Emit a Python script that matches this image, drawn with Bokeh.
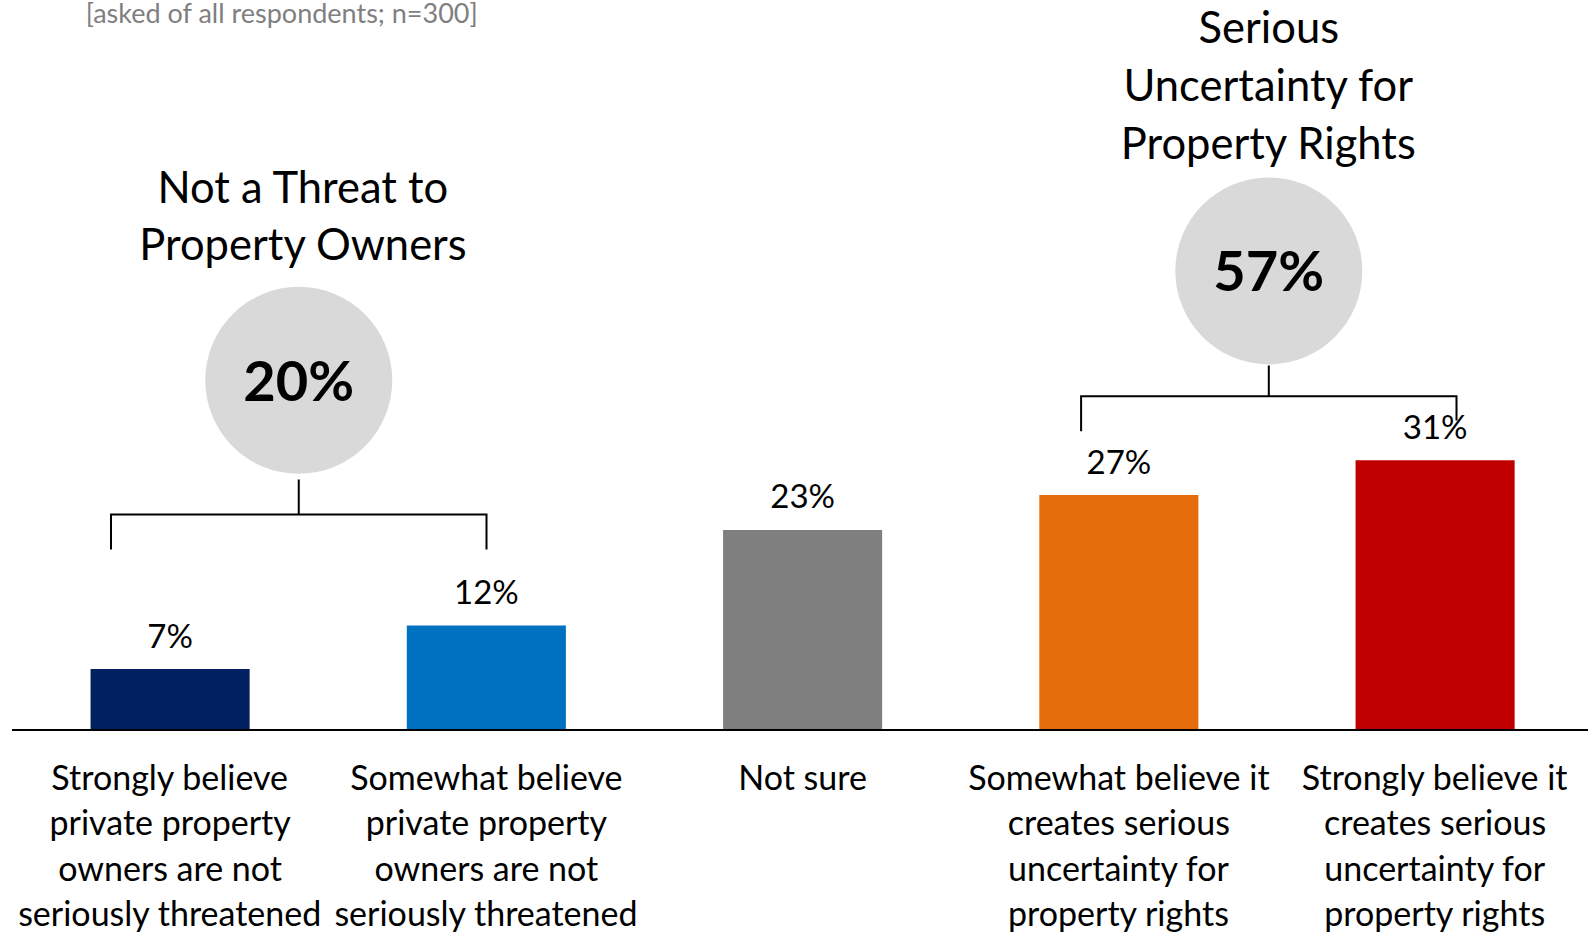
from bokeh.plotting import figure
from bokeh.models import Range1d, ColumnDataSource
from bokeh.core.properties import value
from bokeh.embed import file_html
from bokeh.resources import INLINE

# ---------------- data ----------------
categories = [
    ["Strongly believe", "private property", "owners are not", "seriously threatened"],
    ["Somewhat believe", "private property", "owners are not", "seriously threatened"],
    ["Not sure"],
    ["Somewhat believe it", "creates serious", "uncertainty for", "property rights"],
    ["Strongly believe it", "creates serious", "uncertainty for", "property rights"],
]
values = [7, 12, 23, 27, 31]
value_labels = ["7%", "12%", "23%", "27%", "31%"]
bar_colors = ["#002060", "#0070C0", "#7F7F7F", "#E46C0A", "#C00000"]

group_titles = [["Not a Threat to", "Property Owners"],
                ["Serious", "Uncertainty for", "Property Rights"]]
group_totals = ["20%", "57%"]
subtitle = "[asked of all respondents; n=300]"

FONT = value("Lato")

# ---------------- layout helpers (page pixel -> data units) ----------------
W, H = 1588, 937
X0, PXX = 169.6, 316.25      # px of category 0, px per category
Y0, PXY = 729.5, 8.7         # px of zero line (from top), px per percent
BASE_FIX = 0.41              # baseline correction (em)


def fx(px):
    return (px - X0) / PXX


def fy(py):
    return (Y0 - py) / PXY


def ty(py, size):
    return fy(py - BASE_FIX * size)


p = figure(width=W, height=H, output_backend="svg", toolbar_location=None,
           x_range=Range1d(-X0 / PXX, (W - X0) / PXX),
           y_range=Range1d(-(H - Y0) / PXY, Y0 / PXY),
           min_border=0, outline_line_color=None,
           background_fill_color="white", border_fill_color="white")
p.xaxis.visible = False
p.yaxis.visible = False
p.grid.visible = False

# bars
LAB_SIZE = 33
idx = list(range(len(values)))
src = ColumnDataSource(dict(x=idx, top=values, color=bar_colors, lab=value_labels,
                            ly=[v + (21 + BASE_FIX * LAB_SIZE) / PXY for v in values]))
p.vbar(x="x", top="top", bottom=0, width=0.503, fill_color="color", line_color=None, source=src)
p.text(x="x", y="ly", text="lab", source=src, text_align="center", text_baseline="alphabetic",
       text_font=FONT, text_font_size=f"{LAB_SIZE}px", text_color="#000000")

# baseline axis line
p.segment(x0=[-0.5], y0=[0], x1=[len(values)], y1=[0], line_color="#000000", line_width=2)

# category labels (one text per line)
CAT_SIZE = 34
lx, ly, lt = [], [], []
for i, lines in enumerate(categories):
    for k, line in enumerate(lines):
        lx.append(i)
        ly.append(ty(790 + k * 45.4, CAT_SIZE))
        lt.append(line)
p.text(x=lx, y=ly, text=lt, text_align="center", text_baseline="alphabetic",
       text_font=FONT, text_font_size=f"{CAT_SIZE}px", text_color="#000000")

# subtitle
SUB_SIZE = 27
p.text(x=[fx(281.5)], y=[ty(23, SUB_SIZE)], text=[subtitle], text_align="center",
       text_baseline="alphabetic", text_font=FONT, text_font_size=f"{SUB_SIZE}px", text_color="#7F7F7F")

TITLE_SIZE = 43.5
BIG_SIZE = 56

# group A: bracket, circle, titles
ax_l, ax_r = fx(110.5), fx(486)
ax_m = (ax_l + ax_r) / 2
p.multi_line(xs=[[ax_l, ax_l, ax_r, ax_r], [ax_m, ax_m]],
             ys=[[fy(549), fy(514), fy(514), fy(549)], [fy(514), fy(479)]],
             line_color="#000000", line_width=2, line_join="miter")
p.scatter(x=[ax_m], y=[fy(379.8)], size=187, marker="circle", fill_color="#D9D9D9", line_color=None)
p.text(x=[ax_m], y=[ty(401.7, BIG_SIZE)], text=[group_totals[0]], text_align="center",
       text_baseline="alphabetic", text_font=FONT, text_font_size=f"{BIG_SIZE}px",
       text_font_style="bold", text_color="#000000")
p.text(x=[fx(303)] * 2, y=[ty(203, TITLE_SIZE), ty(260, TITLE_SIZE)], text=group_titles[0],
       text_align="center", text_baseline="alphabetic", text_font=FONT,
       text_font_size=f"{TITLE_SIZE}px", text_color="#000000")

# group B: bracket, circle, titles
bx_l, bx_r = fx(1080.6), fx(1456)
bx_m = (bx_l + bx_r) / 2
p.multi_line(xs=[[bx_l, bx_l, bx_r, bx_r], [bx_m, bx_m]],
             ys=[[fy(430.7), fy(395.7), fy(395.7), fy(420)], [fy(395.7), fy(365)]],
             line_color="#000000", line_width=2, line_join="miter")
p.scatter(x=[bx_m], y=[fy(270.4)], size=187, marker="circle", fill_color="#D9D9D9", line_color=None)
p.text(x=[bx_m], y=[ty(291.7, BIG_SIZE)], text=[group_totals[1]], text_align="center",
       text_baseline="alphabetic", text_font=FONT, text_font_size=f"{BIG_SIZE}px",
       text_font_style="bold", text_color="#000000")
p.text(x=[bx_m] * 3, y=[ty(43, TITLE_SIZE), ty(101, TITLE_SIZE), ty(159, TITLE_SIZE)],
       text=group_titles[1], text_align="center", text_baseline="alphabetic", text_font=FONT,
       text_font_size=f"{TITLE_SIZE}px", text_color="#000000")

open("out.html", "w").write(file_html(p, INLINE))
